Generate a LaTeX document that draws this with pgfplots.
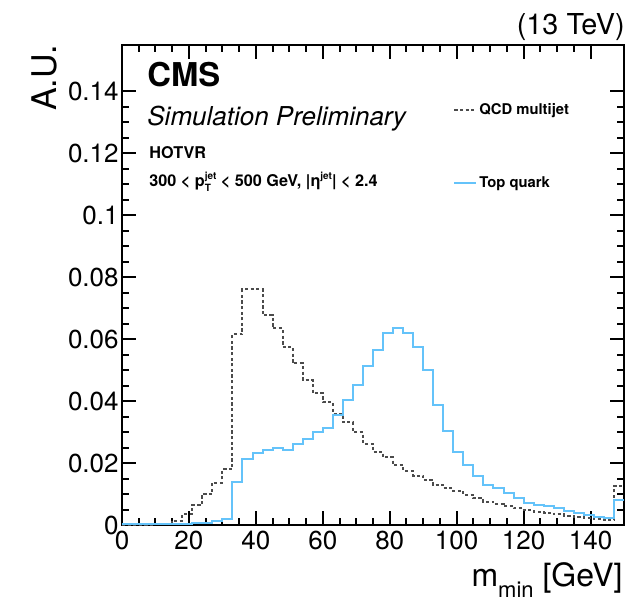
\documentclass[border=0pt]{standalone}
\usepackage{pgfplots}
\pgfplotsset{compat=1.18}
\usepackage{fontspec}
\setmainfont{TeX Gyre Heros}
\definecolor{topblue}{RGB}{100,195,250}
\definecolor{qcdgray}{RGB}{75,75,75}
\newcommand{\jetsup}[2]{#1\rlap{\raisebox{-0.55ex}{\fontsize{5}{5}\selectfont #2}}\raisebox{0.85ex}{\fontsize{5}{5}\selectfont jet}}
\begin{document}
\begin{tikzpicture}
\useasboundingbox (-61pt,-38pt) rectangle (253.5pt,262.5pt);
\begin{axis}[
  at={(0,0)}, anchor=south west,
  width=251pt, height=240pt, scale only axis,
  xmin=0, xmax=150, ymin=0, ymax=0.155,
  clip=false,
  axis line style={line width=1.1pt},
  tick align=inside,
  xtick pos=both, ytick pos=both,
  xtick={0,20,40,60,80,100,120,140},
  xticklabels={0,20,40,60,80,100,120,140},
  minor x tick num=3,
  ytick={0,0.02,0.04,0.06,0.08,0.1,0.12,0.14},
  yticklabels={0,0.02,0.04,0.06,0.08,0.1,0.12,0.14},
  minor y tick num=3,
  scaled y ticks=false,
  major tick length=7pt, minor tick length=3.5pt,
  every tick/.style={black, line width=1pt},
  tick label style={font=\fontsize{13}{13}\selectfont},
  yticklabel style={inner sep=1.5pt},
  xticklabel style={inner sep=3pt},
  xlabel={m\raisebox{-0.35em}{\fontsize{11}{11}\selectfont min} [GeV]},
  xlabel style={at={(axis description cs:0.998,-0.1285)}, anchor=base east, inner sep=0pt, font=\fontsize{16}{16}\selectfont},
  ylabel={A.U.},
  ylabel style={at={(axis description cs:-0.1295,1.0)}, anchor=base east, inner sep=0pt, font=\fontsize{17}{17}\selectfont},
  legend style={at={(axis description cs:0.6594,0.8833)}, anchor=north west, draw=none, fill=none, inner sep=0pt, row sep=27.5pt, font=\bfseries\fontsize{7.4}{9}\selectfont, nodes={inner sep=1pt}},
  legend image code/.code={\draw[#1] (0pt,0pt) -- (11pt,0pt);},
  legend cell align=left,
]
\addplot[const plot mark left, qcdgray, line width=1pt, dash pattern=on 1.6pt off 1.2pt] coordinates {
(0,0.0001) (3,0.0001) (6,0.0001) (9,0.0002) (12,0.0004) (15,0.0014) (18,0.0035) (21,0.0065) (24,0.0100) (27,0.0137)
(30,0.0180) (33,0.0616) (36,0.0761) (39,0.0761) (42,0.0677) (45,0.0635) (48,0.0575) (51,0.0522) (54,0.0468) (57,0.0425)
(60,0.0396) (63,0.0360) (66,0.0331) (69,0.0299) (72,0.0263) (75,0.0236) (78,0.0218) (81,0.0193) (84,0.0175) (87,0.0159)
(90,0.0145) (93,0.0129) (96,0.0118) (99,0.0110) (102,0.0097) (105,0.0086) (108,0.0075) (111,0.0068) (114,0.0061) (117,0.0054)
(120,0.0048) (123,0.0043) (126,0.0040) (129,0.0034) (132,0.0030) (135,0.0026) (138,0.0023) (141,0.0019) (144,0.0016) (147,0.0125)
(150,0.0125)};
\addlegendentry{QCD multijet}
\addplot[const plot mark left, topblue, line width=1pt] coordinates {
(0,0.0002) (3,0.0002) (6,0.0002) (9,0.0002) (12,0.0002) (15,0.0002) (18,0.0003) (21,0.0005) (24,0.0008) (27,0.0012)
(30,0.0019) (33,0.0140) (36,0.0212) (39,0.0231) (42,0.0242) (45,0.0248) (48,0.0241) (51,0.0263) (54,0.0279) (57,0.0301)
(60,0.0313) (63,0.0355) (66,0.0404) (69,0.0451) (72,0.0512) (75,0.0564) (78,0.0621) (81,0.0636) (84,0.0621) (87,0.0575)
(90,0.0500) (93,0.0387) (96,0.0303) (99,0.0236) (102,0.0193) (105,0.0158) (108,0.0129) (111,0.0118) (114,0.0102) (117,0.0086)
(120,0.0070) (123,0.0066) (126,0.0062) (129,0.0055) (132,0.0046) (135,0.0038) (138,0.0033) (141,0.0026) (144,0.0022) (147,0.0082)
(150,0.0082)};
\addlegendentry{Top quark}
\node[anchor=base west, inner sep=0pt, font=\bfseries\fontsize{16.4}{16.4}\selectfont] at (axis description cs:0.0498,0.9125) {CMS};
\node[anchor=base west, inner sep=0pt, font=\itshape\fontsize{13}{13}\selectfont] at (axis description cs:0.0498,0.8313) {Simulation Preliminary};
\node[anchor=base west, inner sep=0pt, font=\bfseries\fontsize{8.1}{8.1}\selectfont] at (axis description cs:0.0538,0.764) {HOTVR};
\node[anchor=base west, inner sep=0pt, font=\bfseries\fontsize{8.1}{8.1}\selectfont] at (axis description cs:0.0538,0.7048) {300 < \jetsup{p}{T} < 500 GeV, |\jetsup{η}{}| < 2.4};
\node[anchor=base east, inner sep=0pt, font=\fontsize{14.4}{14.4}\selectfont] at (axis description cs:1.002,1.0229) {(13 TeV)};
\end{axis}
\end{tikzpicture}
\end{document}
